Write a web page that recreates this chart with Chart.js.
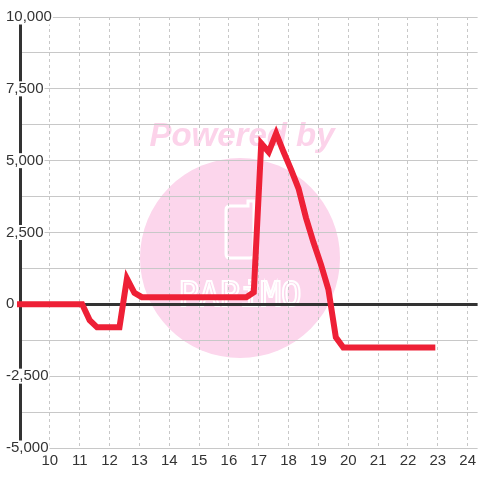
<!DOCTYPE html>
<html>
<head>
<meta charset="utf-8">
<style>
  html, body { margin: 0; padding: 0; background: #fff; }
  #wrap { width: 480px; height: 480px; position: relative; }
</style>
<script src="https://cdn.jsdelivr.net/npm/chart.js@4.4.1/dist/chart.umd.min.js"></script>
</head>
<body>
<div id="wrap"><canvas id="diffChart"></canvas></div>
<script>
// data (time of day -> value)
const times = ['8:50', '11:05', '11:20', '11:35', '12:20', '12:35', '12:50', '13:05',
  '16:35', '16:50', '17:05', '17:20', '17:35', '17:50', '18:05', '18:20', '18:35',
  '18:50', '19:05', '19:20', '19:35', '19:50', '22:55'];
const values = [0, 0, -550, -800, -800, 900, 400, 250,
  250, 420, 5600, 5300, 5950, 5300, 4690, 4030, 3010,
  2160, 1390, 520, -1150, -1500, -1500];

const hourTicks = [10, 11, 12, 13, 14, 15, 16, 17, 18, 19, 20, 21, 22, 23, 24];
const yLabelValues = [10000, 7500, 5000, 2500, 0, -2500, -5000];

const toHours = t => {
  const [h, m] = t.split(':').map(Number);
  return h + m / 60;
};
const points = times.map((t, i) => ({ x: toHours(t), y: values[i] }));

// pink watermark behind everything
const watermark = {
  id: 'watermark',
  beforeDraw(chart) {
    const c = chart.ctx;
    c.save();
    c.fillStyle = '#fcd6ec';
    c.beginPath();
    c.arc(240, 258, 100, 0, Math.PI * 2);
    c.fill();

    c.fillStyle = '#fcd3ea';
    c.font = 'italic bold 33px "Liberation Sans", Arial, sans-serif';
    c.textAlign = 'center';
    c.textBaseline = 'alphabetic';
    c.fillText('Powered by', 242, 146);

    c.strokeStyle = '#ffffff';
    c.lineWidth = 3;
    c.beginPath();
    c.moveTo(230, 206);
    c.lineTo(248, 206);
    c.lineTo(248, 201);
    c.lineTo(254, 201);
    c.lineTo(254, 254);
    c.quadraticCurveTo(254, 258, 250, 258);
    c.lineTo(230, 258);
    c.quadraticCurveTo(226, 258, 226, 254);
    c.lineTo(226, 210);
    c.quadraticCurveTo(226, 206, 230, 206);
    c.stroke();

    c.lineWidth = 2;
    c.font = '34px "DejaVu Sans Mono", monospace';
    c.strokeText('PAPiMO', 240, 306);
    c.restore();
  }
};

const ctx = document.getElementById('diffChart');
new Chart(ctx, {
  type: 'line',
  data: {
    datasets: [{
      data: points,
      borderColor: '#ee2036',
      borderWidth: 6,
      pointRadius: 0,
      tension: 0,
      fill: false,
      clip: { left: 3, top: 5, right: 0, bottom: 5 }
    }]
  },
  options: {
    responsive: true,
    maintainAspectRatio: false,
    animation: false,
    events: [],
    layout: { padding: { top: 17, left: 0, right: 0, bottom: 0 } },
    plugins: {
      legend: { display: false },
      tooltip: { enabled: false }
    },
    scales: {
      x: {
        type: 'linear',
        min: 9,
        max: 9 + 460 / 30,
        afterBuildTicks: scale => { scale.ticks = hourTicks.map(v => ({ value: v })); },
        afterFit: scale => { scale.height = 32; },
        grid: { color: '#c8c8c8', lineWidth: 1, drawTicks: false },
        border: { display: false, dash: [3, 3] },
        ticks: {
          color: '#333',
          padding: 4,
          maxRotation: 0,
          autoSkip: false,
          font: { family: '"Liberation Sans", Arial, sans-serif', size: 15, lineHeight: 1.2 },
          callback: v => String(v)
        }
      },
      y: {
        min: -5000,
        max: 10000,
        afterFit: scale => { scale.width = 20; },
        grid: {
          drawTicks: false,
          color: c => c.tick && c.tick.value === 0 ? '#333' : '#c8c8c8',
          lineWidth: c => c.tick && c.tick.value === 0 ? 3 : 1
        },
        border: { display: true, color: '#333', width: 3 },
        ticks: {
          stepSize: 1250,
          mirror: true,
          padding: -14,
          z: 1,
          color: '#333',
          showLabelBackdrop: true,
          backdropColor: c => yLabelValues.includes(c.tick.value) ? '#fff' : 'rgba(0,0,0,0)',
          backdropPadding: { top: 0, bottom: 0, left: 1, right: 1 },
          font: { family: '"Liberation Sans", Arial, sans-serif', size: 15, lineHeight: 1 },
          callback: v => yLabelValues.includes(v) ? v.toLocaleString('en-US') : ''
        }
      }
    }
  },
  plugins: [watermark]
});
</script>
</body>
</html>
